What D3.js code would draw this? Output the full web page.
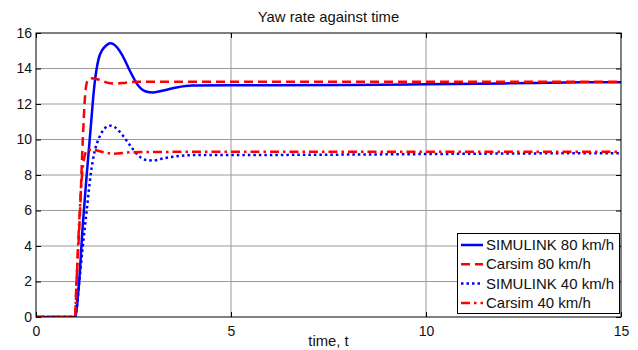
<!DOCTYPE html>
<html><head><meta charset="utf-8">
<script src="https://cdn.jsdelivr.net/npm/d3@7"></script>
<style>
body{margin:0;background:#fff;}
svg{display:block;font-family:"Liberation Sans",Arial,sans-serif;}
</style></head>
<body><svg id="c" width="638" height="350"></svg>
<script>
// ---- data ----
const xTicks = [0, 5, 10, 15];
const yTicks = [0, 2, 4, 6, 8, 10, 12, 14, 16];
const seriesNames = ["SIMULINK 80 km/h", "Carsim 80 km/h", "SIMULINK 40 km/h", "Carsim 40 km/h"];

const tSim80 = [0, 1.0, 1.1, 1.2, 1.3, 1.4, 1.5, 1.6, 1.7, 1.8, 1.9, 2.0, 2.2, 2.4, 2.6, 2.8, 3.0, 3.3, 3.6, 4.0, 5, 6, 8, 10, 12, 14, 15];
const ySim80 = [0, 0, 1.8, 5.2, 8.0, 10.6, 13.1, 14.5, 15.05, 15.3, 15.42, 15.35, 14.8, 13.9, 13.1, 12.72, 12.65, 12.78, 12.93, 13.04, 13.06, 13.06, 13.07, 13.11, 13.16, 13.22, 13.23];

const tCar80 = [0, 1.0, 1.04, 1.13, 1.2, 1.26, 1.32, 1.4, 1.6, 1.8, 2.0, 2.3, 2.6, 4, 8, 12, 15];
const yCar80 = [0, 0, 2, 6, 10, 12.5, 13.3, 13.45, 13.38, 13.22, 13.15, 13.2, 13.25, 13.26, 13.26, 13.26, 13.26];

const tSim40 = [0, 1.0, 1.11, 1.2, 1.3, 1.4, 1.5, 1.6, 1.7, 1.8, 1.9, 2.0, 2.2, 2.4, 2.6, 2.8, 3.0, 3.3, 3.6, 4.0, 6, 8, 10, 12, 15];
const ySim40 = [0, 0, 2, 4, 6, 8, 9.3, 10.0, 10.45, 10.7, 10.78, 10.72, 10.3, 9.7, 9.15, 8.86, 8.82, 8.95, 9.05, 9.12, 9.13, 9.15, 9.18, 9.21, 9.23];

const tCar40 = [0, 1.0, 1.04, 1.1, 1.18, 1.25, 1.32, 1.45, 1.7, 2.0, 2.4, 3.0, 6, 10, 15];
const yCar40 = [0, 0, 2, 5, 8, 9.1, 9.4, 9.42, 9.3, 9.2, 9.28, 9.3, 9.31, 9.31, 9.31];

// ---- layout ----
const svg = d3.select("#c");
const L = 36, R = 621, T = 33, B = 317;
const x = d3.scaleLinear().domain([0, 15]).range([L, R]);
const y = d3.scaleLinear().domain([0, 16]).range([B, T]);

// grid
const g = svg.append("g");
g.selectAll(".gx").data(xTicks.slice(1, -1)).enter().append("line")
  .attr("x1", d => x(d)).attr("x2", d => x(d)).attr("y1", T).attr("y2", B)
  .attr("stroke", "#9a9a9a").attr("stroke-width", 1);
g.selectAll(".gy").data(yTicks.slice(1, -1)).enter().append("line")
  .attr("x1", L).attr("x2", R).attr("y1", d => y(d)).attr("y2", d => y(d))
  .attr("stroke", "#9a9a9a").attr("stroke-width", 1);

// axes
const font = 14;
const ax = svg.append("g").attr("transform", `translate(0,${B})`)
  .call(d3.axisBottom(x).tickValues(xTicks).tickSize(-5).tickPadding(9).tickFormat(d3.format("d")));
const ay = svg.append("g").attr("transform", `translate(${L},0)`)
  .call(d3.axisLeft(y).tickValues(yTicks).tickSize(-5).tickPadding(4).tickFormat(d3.format("d")));
const axT = svg.append("g").attr("transform", `translate(0,${T})`)
  .call(d3.axisTop(x).tickValues(xTicks).tickSize(-5).tickFormat(""));
const ayR = svg.append("g").attr("transform", `translate(${R},0)`)
  .call(d3.axisRight(y).tickValues(yTicks).tickSize(-5).tickFormat(""));
[ax, ay, axT, ayR].forEach(a => {
  a.select(".domain").remove();
  a.selectAll("line").attr("stroke", "#000");
  a.selectAll("text").attr("font-size", font).attr("font-family", "Liberation Sans, Arial, sans-serif").attr("fill", "#111");
});

// series
const line = d3.line().x(d => x(d[0])).y(d => y(d[1])).curve(d3.curveMonotoneX);
const zip = (a, b) => a.map((v, i) => [v, b[i]]);
const series = [
  {name: seriesNames[0], data: zip(tSim80, ySim80), color: "#0000ff", dash: null},
  {name: seriesNames[1], data: zip(tCar80, yCar80), color: "#ff0000", dash: "9,5"},
  {name: seriesNames[2], data: zip(tSim40, ySim40), color: "#0000ff", dash: "2.5,3"},
  {name: seriesNames[3], data: zip(tCar40, yCar40), color: "#ff0000", dash: "9,4,2.5,4"}
];
const clip = svg.append("clipPath").attr("id", "clip").append("rect")
  .attr("x", L).attr("y", T - 2).attr("width", R - L).attr("height", B - T + 2);
svg.append("g").attr("clip-path", "url(#clip)").selectAll("path").data(series).enter().append("path")
  .attr("d", d => line(d.data)).attr("fill", "none")
  .attr("stroke", d => d.color).attr("stroke-width", 2.5)
  .attr("stroke-dasharray", d => d.dash);

// frame
svg.append("rect").attr("x", L).attr("y", T).attr("width", R - L).attr("height", B - T)
  .attr("fill", "none").attr("stroke", "#000").attr("stroke-width", 1);

// title & label
svg.append("text").attr("transform", `translate(${(L + R) / 2},22) scale(1.06,1)`).attr("text-anchor", "middle")
  .attr("font-size", font).attr("fill", "#111").text("Yaw rate against time");
svg.append("text").attr("transform", `translate(${(L + R) / 2},346) scale(1.06,1)`).attr("text-anchor", "middle")
  .attr("font-size", font).attr("fill", "#111").text("time, t");

// legend
const lg = svg.append("g");
lg.append("rect").attr("x", 457.5).attr("y", 233.5).attr("width", 162).attr("height", 80)
  .attr("fill", "#fff").attr("stroke", "#000").attr("stroke-width", 1);
const rowY = [245, 264.3, 283.6, 302.9];
series.forEach((s, i) => {
  lg.append("line").attr("x1", 461).attr("x2", 483).attr("y1", rowY[i]).attr("y2", rowY[i])
    .attr("stroke", s.color).attr("stroke-width", 2.5).attr("stroke-dasharray", s.dash);
  lg.append("text").attr("transform", `translate(486,${rowY[i] + 5}) scale(1.07,1)`)
    .attr("font-size", font).attr("fill", "#111").text(s.name);
});
</script>
</body></html>
